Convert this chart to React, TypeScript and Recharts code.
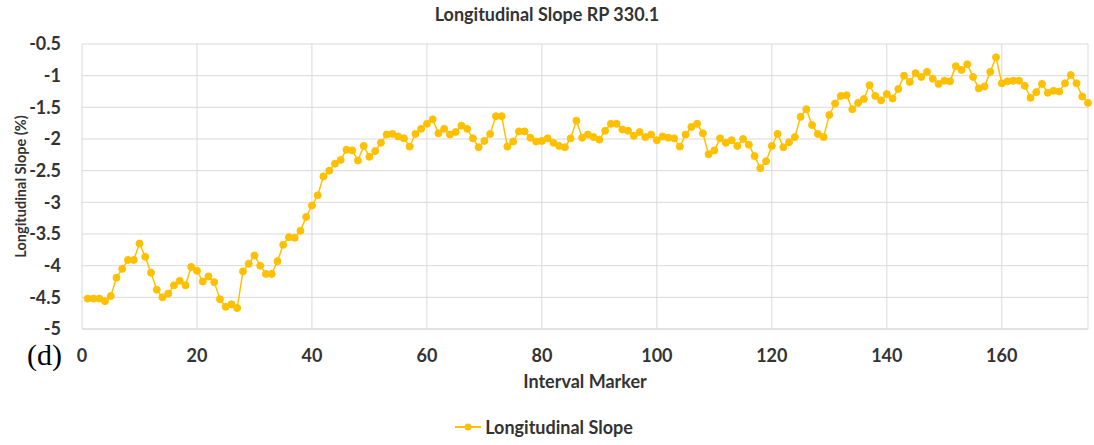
import React from 'react';
import { LineChart, Line, XAxis, YAxis, CartesianGrid, Legend, Label } from 'recharts';

const intervals = [
  1, 2, 3, 4, 5, 6, 7, 8, 9, 10, 11, 12, 13, 14, 15, 16, 17, 18, 19, 20,
  21, 22, 23, 24, 25, 26, 27, 28, 29, 30, 31, 32, 33, 34, 35, 36, 37, 38, 39, 40,
  41, 42, 43, 44, 45, 46, 47, 48, 49, 50, 51, 52, 53, 54, 55, 56, 57, 58, 59, 60,
  61, 62, 63, 64, 65, 66, 67, 68, 69, 70, 71, 72, 73, 74, 75, 76, 77, 78, 79, 80,
  81, 82, 83, 84, 85, 86, 87, 88, 89, 90, 91, 92, 93, 94, 95, 96, 97, 98, 99, 100,
  101, 102, 103, 104, 105, 106, 107, 108, 109, 110, 111, 112, 113, 114, 115, 116, 117, 118, 119, 120,
  121, 122, 123, 124, 125, 126, 127, 128, 129, 130, 131, 132, 133, 134, 135, 136, 137, 138, 139, 140,
  141, 142, 143, 144, 145, 146, 147, 148, 149, 150, 151, 152, 153, 154, 155, 156, 157, 158, 159, 160,
  161, 162, 163, 164, 165, 166, 167, 168, 169, 170, 171, 172, 173, 174, 175,
];

const slopes = [
  -4.52, -4.52, -4.52, -4.56, -4.48, -4.19, -4.05, -3.91, -3.91, -3.65,
  -3.86, -4.11, -4.38, -4.5, -4.44, -4.31, -4.24, -4.31, -4.02, -4.08,
  -4.25, -4.17, -4.26, -4.53, -4.65, -4.61, -4.67, -4.09, -3.97, -3.84,
  -4.0, -4.13, -4.13, -3.93, -3.67, -3.55, -3.56, -3.45, -3.23, -3.05,
  -2.89, -2.59, -2.5, -2.39, -2.33, -2.17, -2.18, -2.34, -2.11, -2.28,
  -2.19, -2.06, -1.93, -1.92, -1.96, -1.99, -2.12, -1.92, -1.84, -1.76,
  -1.69, -1.91, -1.84, -1.93, -1.89, -1.79, -1.84, -1.99, -2.13, -2.03,
  -1.92, -1.64, -1.64, -2.12, -2.04, -1.88, -1.88, -1.98, -2.04, -2.03,
  -1.99, -2.06, -2.11, -2.13, -1.99, -1.71, -1.98, -1.93, -1.97, -2.01,
  -1.87, -1.76, -1.76, -1.85, -1.87, -1.95, -1.89, -1.97, -1.93, -2.02,
  -1.96, -1.98, -1.99, -2.12, -1.93, -1.81, -1.76, -1.91, -2.24, -2.18,
  -1.99, -2.06, -2.02, -2.11, -2.0, -2.09, -2.27, -2.46, -2.35, -2.11,
  -1.92, -2.13, -2.05, -1.97, -1.65, -1.53, -1.78, -1.92, -1.97, -1.62,
  -1.44, -1.32, -1.31, -1.53, -1.43, -1.37, -1.15, -1.32, -1.39, -1.29,
  -1.36, -1.21, -1.0, -1.1, -0.96, -1.02, -0.94, -1.05, -1.13, -1.08,
  -1.09, -0.85, -0.91, -0.82, -1.02, -1.2, -1.17, -0.94, -0.71, -1.12,
  -1.09, -1.08, -1.08, -1.16, -1.35, -1.26, -1.13, -1.27, -1.24, -1.25,
  -1.12, -0.99, -1.12, -1.33, -1.43,
];

const xTicks = [0, 20, 40, 60, 80, 100, 120, 140, 160];
const yTicks = [-5, -4.5, -4, -3.5, -3, -2.5, -2, -1.5, -1, -0.5];

const chartTitle = 'Longitudinal Slope RP 330.1';
const seriesName = 'Longitudinal Slope';
const xLabel = 'Interval Marker';
const yLabel = 'Longitudinal Slope (%)';
const panelTag = '(d)';

const data = intervals.map((x, i) => ({ interval: x, slope: slopes[i] }));

const FONT = "Lato, 'Open Sans', sans-serif";
const TEXT = '#333333';
const GOLD = '#FFC000';

const renderLegend = () => (
  <div
    style={{
      display: 'flex',
      justifyContent: 'center',
      alignItems: 'center',
      height: 24,
      fontFamily: FONT,
      fontSize: 18,
      fontWeight: 700,
      color: TEXT,
    }}
  >
    <svg width={26} height={10} style={{ marginRight: 4 }}>
      <line x1={0} y1={5} x2={26} y2={5} stroke={GOLD} strokeWidth={2} />
      <circle cx={13} cy={5} r={3.5} fill={GOLD} />
    </svg>
    <span>{seriesName}</span>
  </div>
);

export default function App() {
  return (
    <div style={{ position: 'absolute', left: 0, top: 0, width: 1094, height: 445, background: '#fff' }}>
      <div
        style={{
          position: 'absolute',
          top: 3,
          left: 0,
          width: 1094,
          textAlign: 'center',
          fontFamily: FONT,
          fontSize: 18,
          fontWeight: 700,
          lineHeight: '22px',
          color: TEXT,
        }}
      >
        {chartTitle}
      </div>
      <LineChart
        width={1094}
        height={445}
        data={data}
        margin={{ top: 44, right: 6, left: 0, bottom: 6 }}
      >
        <CartesianGrid stroke="#d9d9d9" strokeWidth={1} />
        <XAxis
          dataKey="interval"
          type="number"
          domain={[0, 175]}
          ticks={xTicks}
          interval={0}
          height={86}
          tickLine={false}
          axisLine={{ stroke: '#d9d9d9' }}
          tickMargin={14}
          tick={{ fontFamily: FONT, fontSize: 18, fontWeight: 700, fill: TEXT }}
        >
          <Label
            value={xLabel}
            position="insideBottom"
            offset={27}
            style={{ fontFamily: FONT, fontSize: 18, fontWeight: 700, fill: TEXT }}
          />
        </XAxis>
        <YAxis
          type="number"
          domain={[-5, -0.5]}
          ticks={yTicks}
          interval={0}
          width={82}
          tickLine={false}
          axisLine={false}
          tickMargin={15}
          tick={{ fontFamily: FONT, fontSize: 18, fontWeight: 700, fill: TEXT }}
        >
          <Label
            value={yLabel}
            angle={-90}
            position="insideLeft"
            offset={21}
            style={{ fontFamily: FONT, fontSize: 14.5, fontWeight: 700, fill: TEXT, textAnchor: 'middle' }}
          />
        </YAxis>
        <Legend verticalAlign="bottom" align="center" content={renderLegend} />
        <Line
          type="linear"
          dataKey="slope"
          name={seriesName}
          stroke={GOLD}
          strokeWidth={1.5}
          dot={{ r: 3.5, fill: GOLD, stroke: GOLD, strokeWidth: 1 }}
          activeDot={false}
          isAnimationActive={false}
        />
      </LineChart>
      <div
        style={{
          position: 'absolute',
          left: 27,
          top: 343,
          fontFamily: "'Liberation Serif', 'Times New Roman', serif",
          fontSize: 30,
          lineHeight: '24px',
          color: '#000',
        }}
      >
        {panelTag}
      </div>
    </div>
  );
}
